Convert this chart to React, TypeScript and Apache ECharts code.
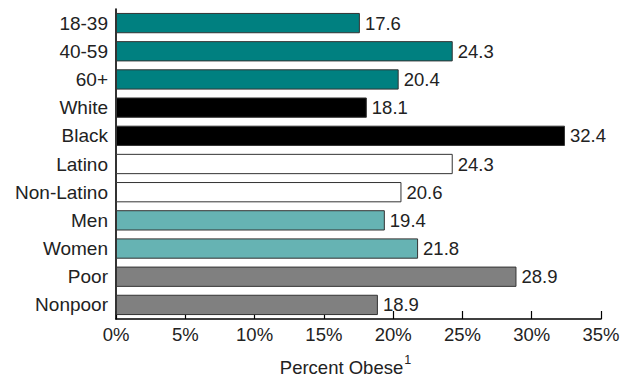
import React, { useEffect, useRef } from "react";
import * as echarts from "echarts";

const categories = ["18-39", "40-59", "60+", "White", "Black", "Latino", "Non-Latino", "Men", "Women", "Poor", "Nonpoor"];
const values = [17.6, 24.3, 20.4, 18.1, 32.4, 24.3, 20.6, 19.4, 21.8, 28.9, 18.9];
const groups = ["age", "age", "age", "race", "race", "ethnicity", "ethnicity", "sex", "sex", "income", "income"];

const groupColors: Record<string, string> = {
  age: "#008080",
  race: "#000000",
  ethnicity: "#ffffff",
  sex: "#66b3b3",
  income: "#808080",
};

const FONT = "Liberation Sans, Arial, sans-serif";

export default function App() {
  const ref = useRef<HTMLDivElement>(null);
  useEffect(() => {
    if (!ref.current) return;
    const chart = echarts.init(ref.current, null, { renderer: "svg" });
    chart.setOption({
      animation: false,
      grid: { left: 108, right: 24, top: 1, bottom: 49, containLabel: false },
      xAxis: {
        type: "value",
        min: 0,
        max: 35,
        interval: 5,
        axisLine: { show: true, lineStyle: { color: "#000", width: 1.6 } },
        axisTick: { show: true, inside: true, length: 8, lineStyle: { color: "#000", width: 1.2 } },
        splitLine: { show: false },
        axisLabel: {
          formatter: "{value}%",
          color: "#222",
          fontSize: 18.5,
          fontFamily: FONT,
          margin: 6,
        },
        name: "Percent Obese{sup|1}",
        nameLocation: "middle",
        nameGap: 34,
        nameTextStyle: {
          color: "#222",
          fontSize: 18.5,
          fontFamily: FONT,
          padding: [0, 26, 0, 0],
          rich: {
            sup: { fontSize: 12.5, verticalAlign: "top", padding: [0, 0, 16, 1], color: "#222", fontFamily: FONT },
          },
        },
      },
      yAxis: {
        type: "category",
        data: categories,
        inverse: true,
        axisLine: { show: true, lineStyle: { color: "#000", width: 1.6 } },
        axisTick: { show: false },
        axisLabel: { color: "#222", fontSize: 19, fontFamily: FONT, margin: 8 },
      },
      series: [
        {
          type: "bar",
          barCategoryGap: "28%",
          data: values.map((v, i) => ({
            value: v,
            itemStyle: {
              color: groupColors[groups[i]],
              borderColor: "#333",
              borderWidth: 1,
            },
          })),
          label: {
            show: true,
            position: "right",
            distance: 5,
            color: "#222",
            fontSize: 18.5,
            fontFamily: FONT,
            formatter: (p: any) => p.value.toFixed(1),
          },
        },
      ],
    });
    return () => chart.dispose();
  }, []);
  return <div ref={ref} style={{ width: 617, height: 374 }} />;
}
